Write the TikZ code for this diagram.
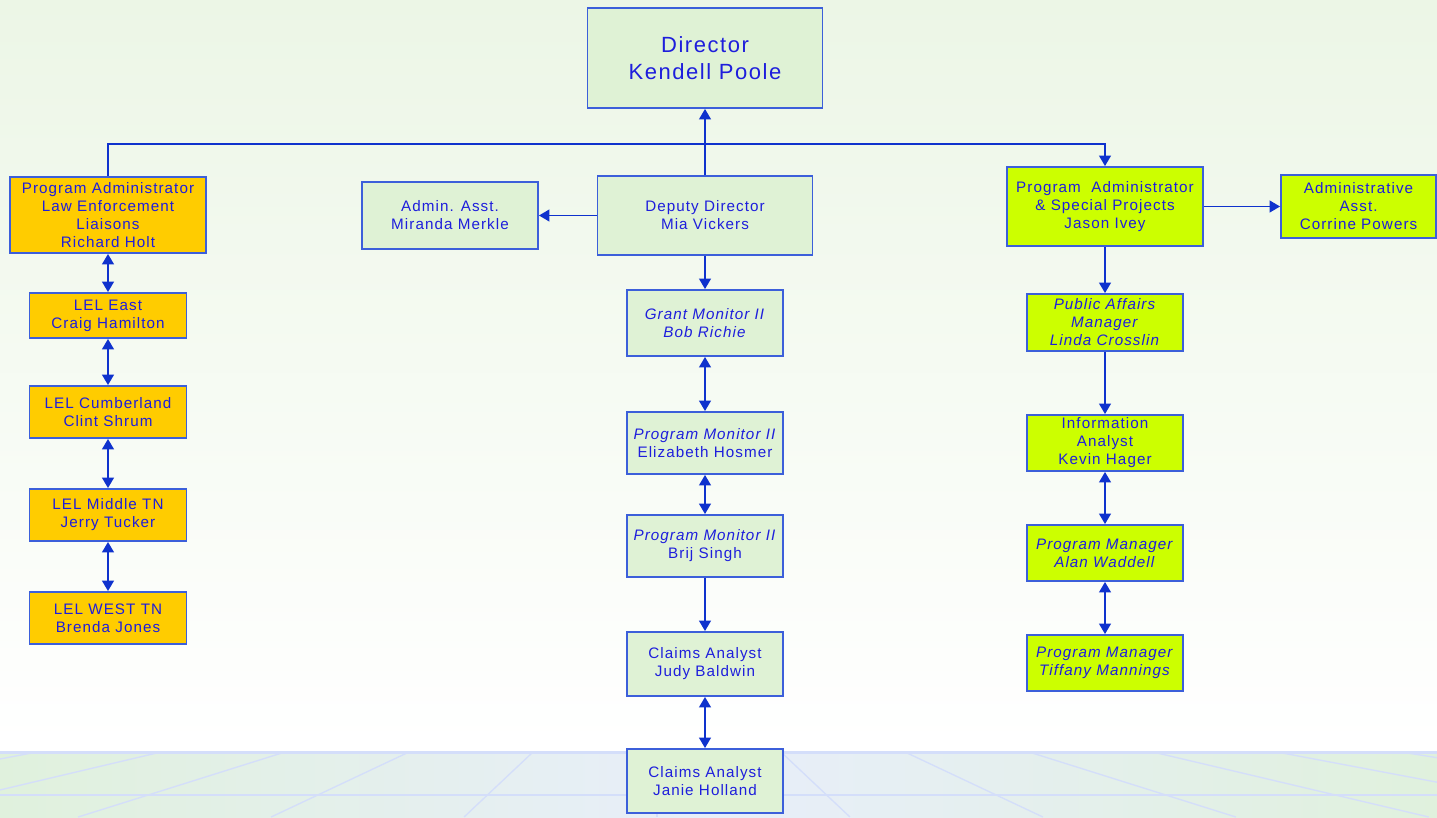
\documentclass[tikz,border=0pt]{standalone}
\usepackage{fontspec}
\setmainfont{Liberation Sans}[LetterSpace=7]
\usetikzlibrary{arrows.meta}
\definecolor{bgtop}{RGB}{236,246,230}
\definecolor{stripgreen}{RGB}{224,241,221}
\definecolor{stripblue}{RGB}{232,238,250}
\definecolor{gridblue}{RGB}{212,222,250}
\definecolor{boxblue}{RGB}{60,95,218}
\definecolor{lineblue}{RGB}{15,50,205}
\definecolor{txtblue}{RGB}{30,30,220}
\definecolor{palegreen}{RGB}{223,242,213}
\definecolor{orangebox}{RGB}{255,204,0}
\definecolor{limebox}{RGB}{204,255,0}
\begin{document}
\begin{tikzpicture}[x=0.75pt,y=-0.75pt,
box/.style={draw=boxblue,line width=1.4pt,text=txtblue,align=center,inner sep=1pt,font=\fontsize{11.4}{13.5}\selectfont},
gbox/.style={box,fill=palegreen},obox/.style={box,fill=orangebox},lbox/.style={box,fill=limebox},
sz/.style 2 args={minimum width=#1*0.75pt,minimum height=#2*0.75pt},
con/.style={draw=lineblue,line width=1.3pt},
ar/.style={con,-{Triangle[width=8.8pt,length=7.8pt]}},
dar/.style={con,{Triangle[width=8.8pt,length=7.8pt]}-{Triangle[width=8.8pt,length=7.8pt]}}]
\useasboundingbox (0,0) rectangle (1437,817);
\shade[top color=bgtop,bottom color=white] (0,0) rectangle (1437,745);
\fill[white] (0,745) rectangle (1437,752);
\shade[left color=stripgreen,right color=stripgreen,middle color=stripblue] (0,752) rectangle (1437,817);
\begin{scope}
\clip (0,752) rectangle (1437,817);
\foreach \k in {-5,...,6} \draw[gridblue,line width=1pt] (657+124*\k,752) -- (657+124*\k*1.556,817);
\draw[gridblue,line width=1pt] (0,795) -- (1437,795);
\end{scope}
\draw[gridblue,line width=2pt] (0,752.5) -- (1437,752.5);
\node[gbox,sz={235}{100},font=\fontsize{16.5}{20}\selectfont] (dir) at (705,58) {Director\\Kendell Poole};
\node[obox,sz={196}{76}] (holt) at (108,215) {Program Administrator\\Law Enforcement\\Liaisons\\Richard Holt};
\node[obox,sz={157}{45}] (east) at (108,315.5) {LEL East\\Craig Hamilton};
\node[obox,sz={157}{52}] (cumb) at (108,412) {LEL Cumberland\\Clint Shrum};
\node[obox,sz={157}{52}] (midtn) at (108,515) {LEL Middle TN\\Jerry Tucker};
\node[obox,sz={157}{52}] (westtn) at (108,618) {LEL WEST TN\\Brenda Jones};
\node[gbox,sz={176}{67}] (merkle) at (450,215.5) {Admin. Asst.\\Miranda Merkle};
\node[gbox,sz={215}{79}] (dep) at (705,215.5) {Deputy Director\\Mia Vickers};
\node[gbox,sz={156}{66}] (richie) at (705,323) {\textit{Grant Monitor II}\\\textit{Bob Richie}};
\node[gbox,sz={156}{62}] (hosmer) at (705,443) {\textit{Program Monitor II}\\Elizabeth Hosmer};
\node[gbox,sz={156}{62}] (singh) at (705,546) {\textit{Program Monitor II}\\Brij Singh};
\node[gbox,sz={156}{64}] (baldwin) at (705,664) {Claims Analyst\\Judy Baldwin};
\node[gbox,sz={156}{64}] (holland) at (705,781) {Claims Analyst\\Janie Holland};
\node[lbox,sz={196}{79}] (ivey) at (1105,206.5) {Program~~Administrator\\\& Special Projects\\Jason Ivey};
\node[lbox,sz={155}{63}] (powers) at (1358.5,206.5) {Administrative\\Asst.\\Corrine Powers};
\node[lbox,sz={156}{57}] (crosslin) at (1105,322.5) {\textit{Public Affairs}\\\textit{Manager}\\\textit{Linda Crosslin}};
\node[lbox,sz={156}{56}] (hager) at (1105,443) {Information\\Analyst\\Kevin Hager};
\node[lbox,sz={156}{56}] (waddell) at (1105,553) {\textit{Program Manager}\\\textit{Alan Waddell}};
\node[lbox,sz={156}{56}] (mannings) at (1105,663) {\textit{Program Manager}\\\textit{Tiffany Mannings}};
\coordinate (jn) at (705,144);
\draw[ar] (dep.north) -- (dir.south);
\draw[con] (holt.north) |- (jn);
\draw[ar] (jn) -| (ivey.north);
\draw[ar] (dep.west) -- (merkle.east);
\draw[ar] (dep.south) -- (richie.north);
\draw[dar] (richie) -- (hosmer);
\draw[dar] (hosmer) -- (singh);
\draw[ar] (singh) -- (baldwin);
\draw[dar] (baldwin) -- (holland);
\draw[dar] (holt) -- (east);
\draw[dar] (east) -- (cumb);
\draw[dar] (cumb) -- (midtn);
\draw[dar] (midtn) -- (westtn);
\draw[ar] (ivey) -- (powers);
\draw[ar] (ivey) -- (crosslin);
\draw[ar] (crosslin) -- (hager);
\draw[dar] (hager) -- (waddell);
\draw[dar] (waddell) -- (mannings);
\end{tikzpicture}
\end{document}
